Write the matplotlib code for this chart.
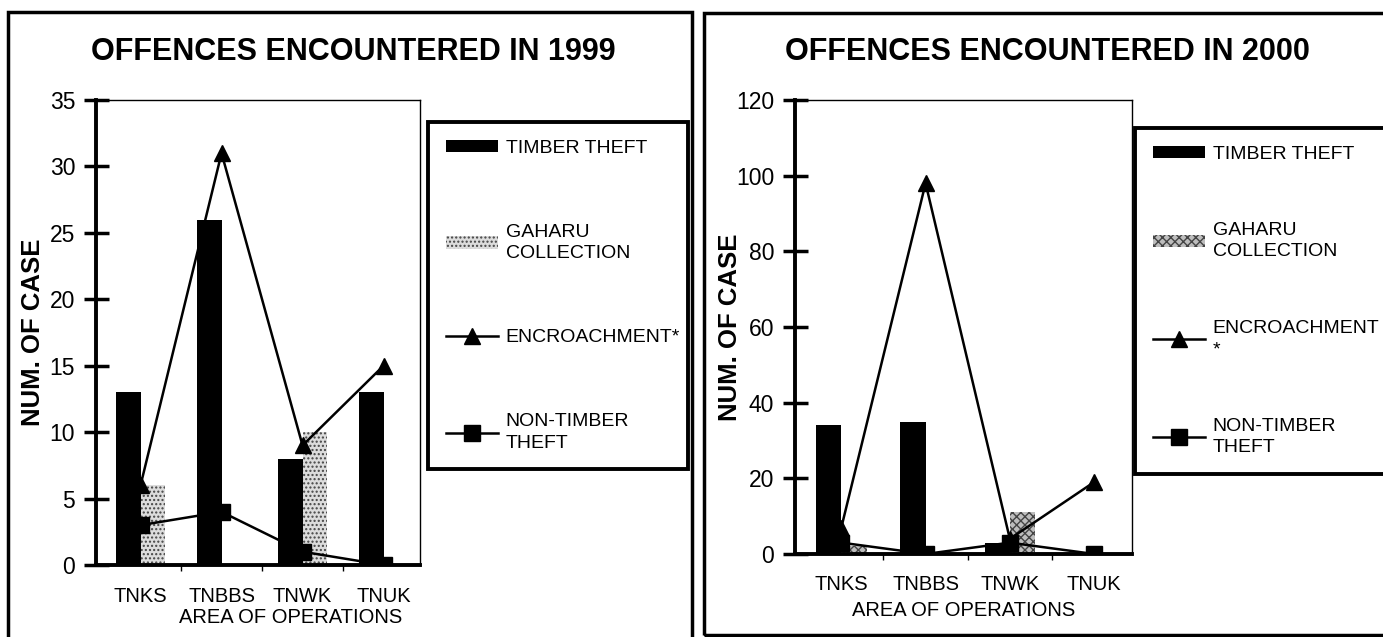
import numpy as np
import matplotlib.pyplot as plt
from matplotlib.patches import Rectangle

plt.rcParams['font.family'] = ['Liberation Sans', 'DejaVu Sans']
plt.rcParams['hatch.linewidth'] = 1.0

# area of operations
areas = ['TNKS', 'TNBBS', 'TNWK', 'TNUK']

# 1999 offences
timber_1999 = [13, 26, 8, 13]
gaharu_1999 = [6, 0, 10, 0]
encroach_1999 = [6, 31, 9, 15]
nontimber_1999 = [3, 4, 1, 0]

# 2000 offences
timber_2000 = [34, 35, 3, 0]
gaharu_2000 = [2, 0, 11, 0]
encroach_2000 = [7, 98, 4, 19]
nontimber_2000 = [3, 0, 3, 0]

W, H = 1383, 637
fig = plt.figure(figsize=(W / 100, H / 100), dpi=100)


def fx(px):
    return px / W


def fy(py):
    return 1 - py / H


def draw_panel(rect, title, title_x, timber, gaharu, encroach, nontimber,
               ymax, ystep, g_face, g_hatch, encroach_label, leg_box, labelspacing,
               xlabel_pos, ylabel_pos, tick_pad):
    ax = fig.add_axes(rect)
    x = np.arange(len(areas))
    w = 0.3
    b1 = ax.bar(x - w / 2, timber, w, color='black', zorder=2)
    b2 = ax.bar(x + w / 2, gaharu, w, facecolor=g_face, edgecolor='#444444',
                hatch=g_hatch, linewidth=0, zorder=2)
    l1, = ax.plot(x, encroach, color='black', lw=1.8, marker='^', ms=12, zorder=3)
    l2, = ax.plot(x, nontimber, color='black', lw=1.8, marker='s', ms=11, zorder=3)

    ax.set_xlim(-0.55, 3.45)
    ax.set_ylim(0, ymax)
    ax.set_yticks(np.arange(0, ymax + 1, ystep))
    ax.set_xticks(x)
    ax.set_xticklabels(areas, fontsize=14.5)
    ax.set_xticks([0.5, 1.5, 2.5], minor=True)
    ax.tick_params(axis='x', which='major', length=0, pad=tick_pad)
    ax.tick_params(axis='x', which='minor', direction='out', length=4, width=1)
    ax.tick_params(axis='y', direction='inout', length=18, width=2.5, pad=6, labelsize=16.5)
    for s in ['left', 'bottom']:
        ax.spines[s].set_linewidth(2.8)
    for s in ['top', 'right']:
        ax.spines[s].set_linewidth(1.0)

    ax.set_xlabel('AREA OF OPERATIONS', fontsize=14.5)
    ax.xaxis.set_label_coords(*xlabel_pos)
    ax.set_ylabel('NUM. OF CASE', fontsize=18.5, fontweight='bold')
    ax.yaxis.set_label_coords(*ylabel_pos)

    fig.text(title_x, fy(52), title, fontsize=22, fontweight='bold', ha='center', va='center')

    leg = ax.legend([b1, b2, l1, l2],
                    ['TIMBER THEFT', 'GAHARU\nCOLLECTION', encroach_label, 'NON-TIMBER\nTHEFT'],
                    loc='upper left', bbox_to_anchor=leg_box, bbox_transform=fig.transFigure,
                    mode='expand', fontsize=14, frameon=True, fancybox=False,
                    edgecolor='black', framealpha=1, labelspacing=labelspacing,
                    handlelength=2.7, handleheight=0.6, handletextpad=0.4,
                    borderpad=0.9, borderaxespad=0)
    leg.get_frame().set_linewidth(2.8)
    for t in leg.get_texts():
        t.set_linespacing(1.35)
    return ax


draw_panel([fx(96), fy(565), fx(324), 465 / H], 'OFFENCES ENCOUNTERED IN 1999', fx(353),
           timber_1999, gaharu_1999, encroach_1999, nontimber_1999,
           35, 5, '#dcdcdc', '....', 'ENCROACHMENT*',
           (fx(428), fy(122) - 0.01, fx(260), 0.01), 3.45,
           (0.6, -0.093), (-0.157, 0.5), 16)

draw_panel([fx(795), fy(554), fx(337), 454 / H], 'OFFENCES ENCOUNTERED IN 2000', fx(1047),
           timber_2000, gaharu_2000, encroach_2000, nontimber_2000,
           120, 20, '#bdbdbd', 'xxxx', 'ENCROACHMENT\n*',
           (fx(1135), fy(128) - 0.01, fx(270), 0.01), 3.05,
           (0.5, -0.104), (-0.157, 0.5), 15)

# panel frames
fig.add_artist(Rectangle((fx(8), -0.02), fx(684), fy(12) + 0.02, transform=fig.transFigure,
                         fill=False, lw=2.5, ec='black'))
fig.add_artist(Rectangle((fx(704), fy(635)), fx(700), fy(13) - fy(635), transform=fig.transFigure,
                         fill=False, lw=2.5, ec='black'))

fig.savefig('out.png', dpi=100)
